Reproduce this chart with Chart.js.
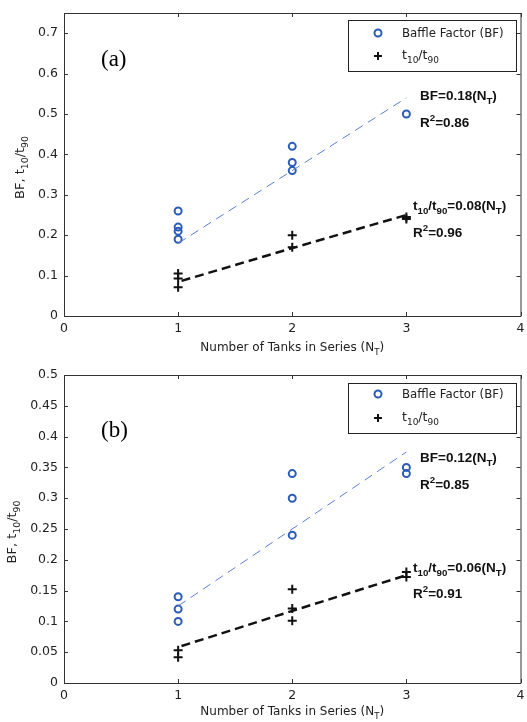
<!DOCTYPE html>
<html>
<head>
<meta charset="utf-8">
<script src="https://cdn.jsdelivr.net/npm/chart.js@4.4.0/dist/chart.umd.min.js"></script>
<style>
  html, body { margin: 0; padding: 0; background: #fff; }
  .panel { position: absolute; left: 0; width: 527px; height: 361px; }
</style>
</head>
<body>
<div class="panel" style="top:0"><canvas id="chartA" width="527" height="361"></canvas></div>
<div class="panel" style="top:361px"><canvas id="chartB" width="527" height="361"></canvas></div>
<script>
// axis ticks
const xTicks = [0, 1, 2, 3, 4];
const yTicksA = [0, 0.1, 0.2, 0.3, 0.4, 0.5, 0.6, 0.7];
const yTicksB = [0, 0.05, 0.1, 0.15, 0.2, 0.25, 0.3, 0.35, 0.4, 0.45, 0.5];

// (a) measured points
const tanksBfA = [1, 1, 1, 1, 2, 2, 2, 3];
const bfA = [0.26, 0.22, 0.21, 0.19, 0.42, 0.38, 0.36, 0.50];
const tanksRatioA = [1, 1, 1, 2, 2, 3, 3];
const ratioA = [0.105, 0.093, 0.071, 0.20, 0.17, 0.245, 0.24];
// (a) fitted lines
const fitBfTanksA = [1, 3];
const fitBfA = [0.18, 0.54];
const fitRatioTanksA = [1.03, 2, 3];
const fitRatioA = [0.087, 0.168, 0.25];

// (b) measured points
const tanksBfB = [1, 1, 1, 2, 2, 2, 3, 3];
const bfB = [0.14, 0.12, 0.10, 0.34, 0.30, 0.24, 0.35, 0.34];
const tanksRatioB = [1, 1, 2, 2, 2, 3, 3];
const ratioB = [0.053, 0.042, 0.152, 0.121, 0.101, 0.18, 0.172];
// (b) fitted lines
const fitBfTanksB = [1, 3];
const fitBfB = [0.125, 0.375];
const fitRatioTanksB = [1.03, 2, 3];
const fitRatioB = [0.06, 0.117, 0.175];

const BLUE = '#2b5cb8';
const BLUE_LINE = '#5a7fd4';
const SANS = '"DejaVu Sans", Arial, sans-serif';
const BOLD = '"Liberation Sans", Arial, sans-serif';

function pts(xs, ys) {
    return xs.map((x, i) => ({ x: x, y: ys[i] }));
}

// draws text made of [string, shift] parts; shift 1 = subscript, -1 = superscript
function richText(ctx, parts, x, y, size, weight, family, draw) {
    let cx = x;
    parts.forEach(([t, s]) => {
        const fs = s ? size * 0.72 : size;
        ctx.font = weight + ' ' + fs + 'px ' + family;
        const dy = s === 1 ? size * 0.32 : (s === -1 ? -size * 0.42 : 0);
        if (draw !== false) ctx.fillText(t, cx, y + dy);
        cx += ctx.measureText(t).width;
    });
    return cx - x;
}

const yTitle = [['BF, t', 0], ['10', 1], ['/t', 0], ['90', 1]];
const xTitle = [['Number of Tanks in Series (N', 0], ['T', 1], [')', 0]];
const ratioLegend = [['t', 0], ['10', 1], ['/t', 0], ['90', 1]];

function decorPlugin(p) {
    return {
        id: 'decor',
        afterDraw(chart) {
            const ctx = chart.ctx;
            const a = chart.chartArea;
            const xs = chart.scales.x, ys = chart.scales.y;
            ctx.save();
            // box + inward ticks
            ctx.strokeStyle = '#333';
            ctx.lineWidth = 1;
            ctx.beginPath();
            ctx.rect(a.left + 0.5, a.top + 0.5, a.right - a.left, a.bottom - a.top);
            xTicks.forEach(v => {
                const px = Math.round(xs.getPixelForValue(v)) + 0.5;
                ctx.moveTo(px, a.bottom); ctx.lineTo(px, a.bottom - 4);
                ctx.moveTo(px, a.top); ctx.lineTo(px, a.top + 4);
            });
            p.yTicks.forEach(v => {
                const py = Math.round(ys.getPixelForValue(v)) + 0.5;
                ctx.moveTo(a.left, py); ctx.lineTo(a.left + 4, py);
                ctx.moveTo(a.right, py); ctx.lineTo(a.right - 4, py);
            });
            ctx.stroke();

            // axis titles
            ctx.fillStyle = '#222';
            ctx.textBaseline = 'alphabetic';
            let w = richText(ctx, xTitle, 0, 0, 12, 'normal', SANS, false);
            richText(ctx, xTitle, (a.left + a.right) / 2 - w / 2, p.xTitleY, 12, 'normal', SANS);
            ctx.save();
            ctx.translate(p.yTitleX, (a.top + a.bottom) / 2 + 3);
            ctx.rotate(-Math.PI / 2);
            w = richText(ctx, yTitle, 0, 0, 13, 'normal', SANS, false);
            richText(ctx, yTitle, -w / 2, 0, 13, 'normal', SANS);
            ctx.restore();

            // legend
            const L = p.legend;
            ctx.fillStyle = '#fff';
            ctx.fillRect(L[0], L[1], L[2], L[3]);
            ctx.strokeStyle = '#222';
            ctx.lineWidth = 1;
            ctx.strokeRect(L[0] + 0.5, L[1] + 0.5, L[2], L[3]);
            ctx.strokeStyle = BLUE;
            ctx.lineWidth = 2;
            ctx.beginPath();
            ctx.arc(378, p.legendRows[0], 3.5, 0, Math.PI * 2);
            ctx.stroke();
            ctx.strokeStyle = '#111';
            ctx.beginPath();
            ctx.moveTo(374, p.legendRows[1]); ctx.lineTo(382, p.legendRows[1]);
            ctx.moveTo(378, p.legendRows[1] - 4); ctx.lineTo(378, p.legendRows[1] + 4);
            ctx.stroke();
            ctx.fillStyle = '#222';
            richText(ctx, [['Baffle Factor (BF)', 0]], 402, p.legendRows[0] + 4, 11.8, 'normal', SANS);
            richText(ctx, ratioLegend, 402, p.legendRows[1] + 3, 12.5, 'normal', SANS);

            // panel letter
            ctx.fillStyle = '#000';
            ctx.font = '23px "Liberation Serif", "Times New Roman", serif';
            ctx.fillText(p.letter, 101, p.letterY);

            // fit equations
            ctx.fillStyle = '#111';
            p.notes.forEach(n => richText(ctx, n.parts, n.x, n.y, 13.5, 'bold', BOLD));
            ctx.restore();
        }
    };
}

function makeChart(id, p) {
    return new Chart(document.getElementById(id), {
        type: 'scatter',
        data: {
            datasets: [
                { data: pts(p.fitBfX, p.fitBf), showLine: true, pointRadius: 0,
                  borderColor: BLUE_LINE, borderWidth: 1, borderDash: [9, 6] },
                { data: pts(p.fitRatioX, p.fitRatio), showLine: true, pointRadius: 0,
                  borderColor: '#111', borderWidth: 2.5, borderDash: [9, 5] },
                { data: pts(p.bfX, p.bf), pointStyle: 'circle', pointRadius: 3.5,
                  borderColor: BLUE, backgroundColor: 'rgba(0,0,0,0)', borderWidth: 2 },
                { data: pts(p.ratioX, p.ratio), pointStyle: 'cross', pointRadius: 4.5,
                  borderColor: '#111', borderWidth: 2 }
            ]
        },
        options: {
            responsive: false,
            animation: false,
            layout: { padding: { top: p.top, right: 5, left: 0, bottom: 0 } },
            plugins: { legend: { display: false }, tooltip: { enabled: false } },
            scales: {
                x: {
                    type: 'linear', min: 0, max: 4,
                    grid: { display: false, drawTicks: false },
                    border: { display: false },
                    ticks: { font: { family: SANS, size: 12.5 }, color: '#222', padding: 5, maxRotation: 0 },
                    afterBuildTicks: s => { s.ticks = xTicks.map(v => ({ value: v })); },
                    afterFit: s => { s.height = p.xAxisH; s.paddingLeft = 0; s.paddingRight = 0; }
                },
                y: {
                    type: 'linear', min: 0, max: p.yMax,
                    grid: { display: false, drawTicks: false },
                    border: { display: false },
                    ticks: { font: { family: SANS, size: 12.5 }, color: '#222', padding: 6,
                             callback: v => String(v) },
                    afterBuildTicks: s => { s.ticks = p.yTicks.map(v => ({ value: v })); },
                    afterFit: s => { s.width = 64; s.paddingTop = 0; s.paddingBottom = 0; }
                }
            }
        },
        plugins: [decorPlugin(p)]
    });
}

makeChart('chartA', {
    top: 13, xAxisH: 45, yMax: 0.75, yTicks: yTicksA,
    bfX: tanksBfA, bf: bfA, ratioX: tanksRatioA, ratio: ratioA,
    fitBfX: fitBfTanksA, fitBf: fitBfA, fitRatioX: fitRatioTanksA, fitRatio: fitRatioA,
    xTitleY: 351, yTitleX: 24,
    legend: [348, 20, 168, 51], legendRows: [33, 56],
    letter: '(a)', letterY: 66,
    notes: [
        { x: 420, y: 100, parts: [['BF=0.18(N', 0], ['T', 1], [')', 0]] },
        { x: 420, y: 127, parts: [['R', 0], ['2', -1], ['=0.86', 0]] },
        { x: 413, y: 210, parts: [['t', 0], ['10', 1], ['/t', 0], ['90', 1], ['=0.08(N', 0], ['T', 1], [')', 0]] },
        { x: 413, y: 237, parts: [['R', 0], ['2', -1], ['=0.96', 0]] }
    ]
});

makeChart('chartB', {
    top: 14, xAxisH: 39, yMax: 0.5, yTicks: yTicksB,
    bfX: tanksBfB, bf: bfB, ratioX: tanksRatioB, ratio: ratioB,
    fitBfX: fitBfTanksB, fitBf: fitBfB, fitRatioX: fitRatioTanksB, fitRatio: fitRatioB,
    xTitleY: 354, yTitleX: 16,
    legend: [348, 22, 168, 50], legendRows: [33, 57],
    letter: '(b)', letterY: 76,
    notes: [
        { x: 420, y: 101, parts: [['BF=0.12(N', 0], ['T', 1], [')', 0]] },
        { x: 420, y: 128, parts: [['R', 0], ['2', -1], ['=0.85', 0]] },
        { x: 413, y: 211, parts: [['t', 0], ['10', 1], ['/t', 0], ['90', 1], ['=0.06(N', 0], ['T', 1], [')', 0]] },
        { x: 413, y: 237, parts: [['R', 0], ['2', -1], ['=0.91', 0]] }
    ]
});
</script>
</body>
</html>
